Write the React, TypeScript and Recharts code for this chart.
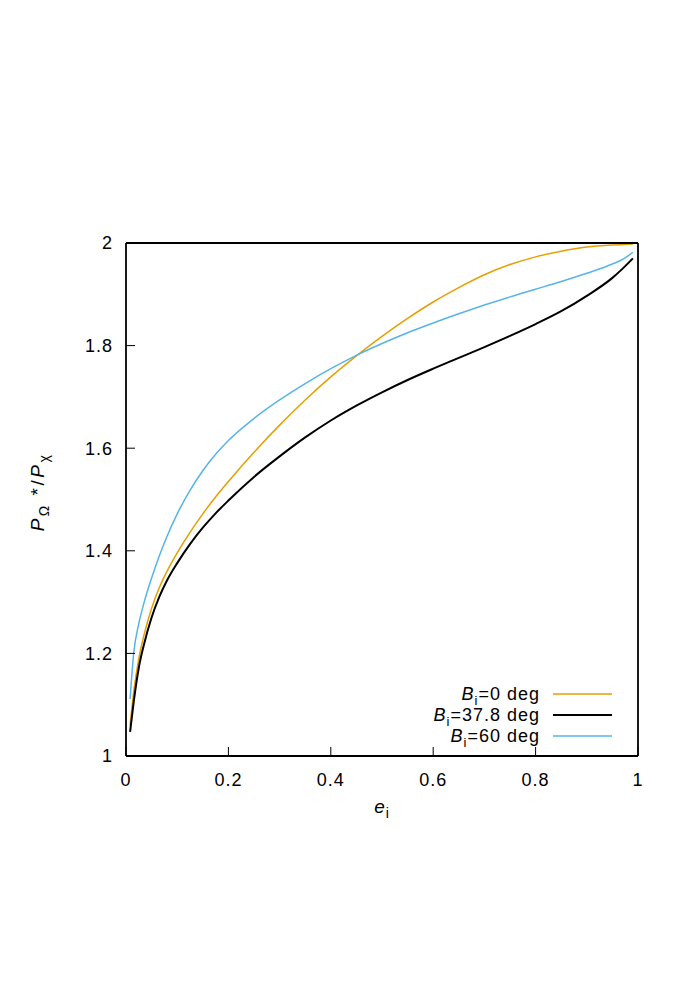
import React from 'react';
import { LineChart, Line, XAxis, YAxis, Legend, Label } from 'recharts';

// eccentricity e_i
const eValues = [
  0.008, 0.015, 0.025, 0.035, 0.05, 0.065, 0.08, 0.1, 0.125, 0.15, 0.175, 0.2,
  0.25, 0.3, 0.35, 0.4, 0.45, 0.5, 0.55, 0.6, 0.65, 0.7, 0.75, 0.8, 0.85, 0.9,
  0.95, 0.97, 0.99,
];
// B_i = 0 deg
const ratioB0 = [
  1.06, 1.125, 1.19, 1.235, 1.288, 1.328, 1.36, 1.396, 1.436, 1.472, 1.505,
  1.535, 1.592, 1.645, 1.694, 1.739, 1.78, 1.818, 1.853, 1.885, 1.913, 1.938,
  1.958, 1.973, 1.984, 1.992, 1.996, 1.997, 1.998,
];
// B_i = 37.8 deg
const ratioB378 = [
  1.047, 1.105, 1.172, 1.217, 1.27, 1.31, 1.342, 1.376, 1.413, 1.445, 1.473,
  1.498, 1.544, 1.584, 1.621, 1.654, 1.683, 1.709, 1.733, 1.755, 1.776, 1.797,
  1.819, 1.842, 1.867, 1.897, 1.932, 1.95, 1.97,
];
// B_i = 60 deg
const ratioB60 = [
  1.111, 1.2, 1.258, 1.298, 1.347, 1.39, 1.428, 1.472, 1.518, 1.556, 1.588,
  1.615, 1.658, 1.694, 1.726, 1.755, 1.781, 1.804, 1.825, 1.844, 1.862, 1.879,
  1.895, 1.91, 1.925, 1.941, 1.959, 1.968, 1.982,
];

const xTicks = [0, 0.2, 0.4, 0.6, 0.8, 1];
const yTicks = [1, 1.2, 1.4, 1.6, 1.8, 2];

const series = [
  { key: 'b0', label: '=0 deg', color: '#E69F00', width: 1.5 },
  { key: 'b378', label: '=37.8 deg', color: '#000000', width: 2 },
  { key: 'b60', label: '=60 deg', color: '#56B4E9', width: 1.5 },
];

const data = eValues.map((e, i) => ({
  e,
  b0: ratioB0[i],
  b378: ratioB378[i],
  b60: ratioB60[i],
}));

const FONT = '"Liberation Sans", Arial, Helvetica, sans-serif';
const tickStyle = { fill: '#000', fontSize: 18, fontFamily: FONT, letterSpacing: 1 };
const tickLine = { stroke: '#000', strokeWidth: 1 };
const axisLine = { stroke: '#000', strokeWidth: 1.8 };

function XTitle(props: any) {
  const { viewBox } = props;
  const cx = viewBox.x + viewBox.width / 2;
  return (
    <text
      x={cx}
      y={813}
      textAnchor="middle"
      fontFamily={FONT}
      fontSize={19}
      letterSpacing={1}
      fill="#000"
    >
      <tspan fontStyle="italic">e</tspan>
      <tspan fontSize={14} dy={5}>i</tspan>
    </text>
  );
}

function YTitle() {
  return (
    <text
      transform="rotate(-90)"
      x={-492}
      y={44}
      textAnchor="middle"
      fontFamily={FONT}
      fontSize={19}
      letterSpacing={2.5}
      fill="#000"
    >
      <tspan fontStyle="italic">P</tspan>
      <tspan fontSize={14} dy={5}>Ω</tspan>
      <tspan dy={-5}> */</tspan>
      <tspan fontStyle="italic">P</tspan>
      <tspan fontSize={14} dy={5}>χ</tspan>
    </text>
  );
}

function LegendBox() {
  return (
    <svg width={240} height={70} style={{ display: 'block' }}>
      {series.map((s, i) => {
        const y = 15 + i * 21;
        return (
          <g key={s.key}>
            <text
              x={140}
              y={y + 6}
              textAnchor="end"
              fontFamily={FONT}
              fontSize={18}
              letterSpacing={1}
              fill="#000"
            >
              <tspan fontStyle="italic">B</tspan>
              <tspan fontSize={13} dy={5}>i</tspan>
              <tspan dy={-5}>{s.label}</tspan>
            </text>
            <line x1={153} x2={212} y1={y} y2={y} stroke={s.color} strokeWidth={s.width} />
          </g>
        );
      })}
    </svg>
  );
}

export default function App() {
  return (
    <div style={{ position: 'absolute', left: 0, top: 0, background: '#fff' }}>
      <LineChart
        width={700}
        height={1000}
        data={data}
        margin={{ top: 242, right: 61, bottom: 194, left: 86 }}
      >
        <XAxis
          dataKey="e"
          type="number"
          domain={[0, 1]}
          ticks={xTicks}
          height={50}
          tick={tickStyle}
          tickSize={-9}
          tickMargin={26}
          tickLine={tickLine}
          axisLine={axisLine}
        >
          <Label content={<XTitle />} />
        </XAxis>
        <XAxis
          xAxisId="top"
          orientation="top"
          dataKey="e"
          type="number"
          domain={[0, 1]}
          ticks={xTicks}
          height={1}
          tick={false}
          tickSize={-9}
          tickLine={tickLine}
          axisLine={axisLine}
        />
        <YAxis
          type="number"
          domain={[1, 2]}
          ticks={yTicks}
          width={40}
          tick={tickStyle}
          tickSize={-9}
          tickMargin={22}
          tickLine={tickLine}
          axisLine={axisLine}
        >
          <Label content={<YTitle />} />
        </YAxis>
        <YAxis
          yAxisId="right"
          orientation="right"
          type="number"
          domain={[1, 2]}
          ticks={yTicks}
          width={1}
          tick={false}
          tickSize={-9}
          tickLine={tickLine}
          axisLine={axisLine}
        />
        <Legend
          layout="horizontal"
          verticalAlign="middle"
          align="center"
          content={() => <LegendBox />}
          wrapperStyle={{ position: 'absolute', left: 400, top: 679, width: 240, height: 70 }}
        />
        {/* invisible series so the mirrored top/right axes are drawn */}
        <Line
          xAxisId="top"
          yAxisId="right"
          dataKey="b0"
          stroke="none"
          dot={false}
          activeDot={false}
          legendType="none"
          isAnimationActive={false}
        />
        {series.map((s) => (
          <Line
            key={s.key}
            dataKey={s.key}
            type="monotone"
            stroke={s.color}
            strokeWidth={s.width}
            dot={false}
            isAnimationActive={false}
          />
        ))}
      </LineChart>
    </div>
  );
}
